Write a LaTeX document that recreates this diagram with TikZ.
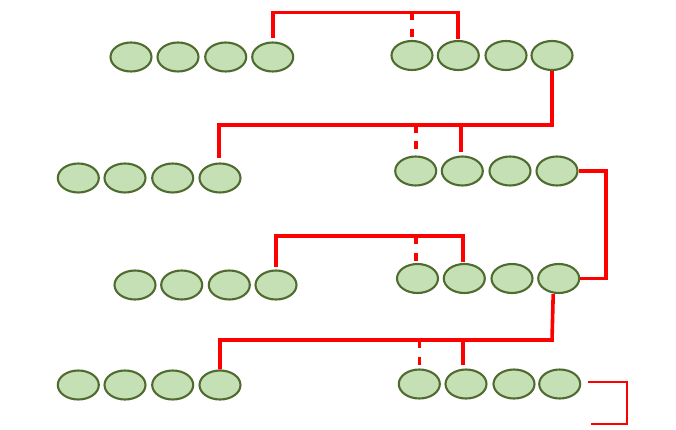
\documentclass[tikz,border=0pt]{standalone}
\usepackage{tikz}
\usetikzlibrary{shapes.geometric}

\definecolor{beadfill}{HTML}{C5E0B4}
\definecolor{beadline}{HTML}{4F6B30}
\definecolor{linkred}{HTML}{FF0000}

\tikzset{
  bead/.style={ellipse, draw=beadline, fill=beadfill, line width=2.1pt,
    minimum width=41pt, minimum height=29pt, inner sep=0pt},
  link/.style={draw=linkred, line width=3.6pt},
  gap link/.style={link, dash pattern=on 8pt off 8.5pt},
  thin link/.style={draw=linkred, line width=1.8pt}
}

\begin{document}
\begin{tikzpicture}[x=1pt, y=-1pt]
			\useasboundingbox (0,0) rectangle (676,430);
			% row 1
			\foreach \x [count=\i] in {131,178,225.7,272.7}
				\node[bead] (a\i) at (\x,57) {};
			\foreach \x [count=\i] in {412,458.3,506,552}
				\node[bead] (b\i) at (\x,55.5) {};
			% row 2
			\foreach \x [count=\i] in {78.3,125,172.7,220}
				\node[bead] (c\i) at (\x,178) {};
			\foreach \x [count=\i] in {415.7,462.3,510,557}
				\node[bead] (d\i) at (\x,171) {};
			% row 3
			\foreach \x [count=\i] in {135,181.7,229.3,276}
				\node[bead] (e\i) at (\x,285) {};
			\foreach \x [count=\i] in {417.5,464.3,512,558.7}
				\node[bead] (f\i) at (\x,278.5) {};
			% row 4
			\foreach \x [count=\i] in {78.3,125,172.7,220}
				\node[bead] (g\i) at (\x,385) {};
			\foreach \x [count=\i] in {419.3,466,514,559.7}
				\node[bead] (h\i) at (\x,384) {};

			\coordinate (bar1) at (0,12.5);
			\coordinate (bar2) at (0,125);
			\coordinate (bar3) at (0,236);
			\coordinate (bar4) at (552,340);
			\coordinate (out1) at (588.3,381.7);
			\coordinate (out2) at (590.7,424);

			\draw[link] ([yshift=3.5pt]a4.north) -- (a4.north |- bar1) -| ([xshift=-0.3pt,yshift=1pt]b2.north);
			\draw[gap link] (b1.north |- bar1) -- (b1.north);
			\draw[link] (b4.south) -- (b4.south |- bar2) -| ([xshift=-1pt,yshift=4pt]c4.north);
			\draw[gap link] (d1.north |- bar2) -- (d1.north);
			\draw[link] ([xshift=-1.6pt]d2.north |- bar2) -- ([xshift=-1.6pt,yshift=3pt]d2.north);
			\draw[link] (d4.east) -- ++(27.3,0) |- (f4.east);
			\draw[link] ([yshift=2.5pt]e4.north) -- (e4.north |- bar3) -| ([xshift=-1.6pt,yshift=1pt]f2.north);
			\draw[gap link] ([xshift=-1.5pt]f1.north |- bar3) -- ([xshift=-1.5pt]f1.north);
			\draw[link] ([xshift=-5.5pt]f4.south) -- (bar4) -| (g4.north);
			\draw[gap link] (h1.north |- bar4) -- ([yshift=2.5pt]h1.north);
			\draw[link] ([xshift=-3.3pt]h2.north |- bar4) -- ([xshift=-3.3pt,yshift=3pt]h2.north);
			\draw[thin link] (out1) -- ++(38.7,0) |- (out2);
		\end{tikzpicture}
\end{document}
